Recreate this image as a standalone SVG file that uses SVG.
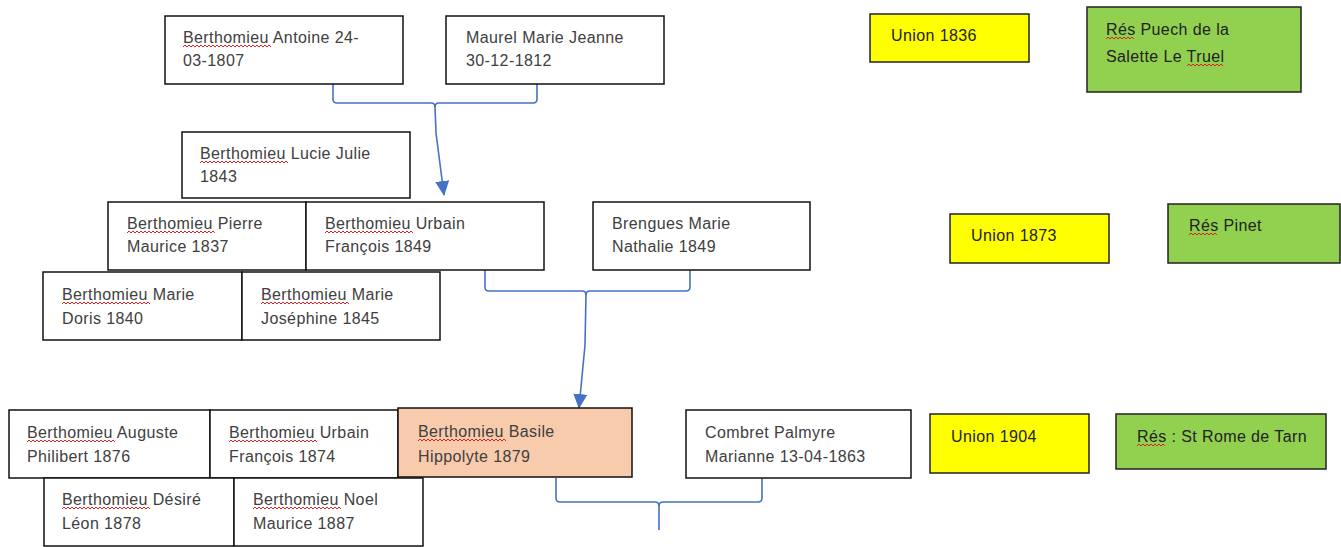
<svg xmlns="http://www.w3.org/2000/svg" width="1341" height="547" viewBox="0 0 1341 547">
<style>
.b{fill:#fff;stroke:#111;stroke-width:1.5}
.y{fill:#ffff00;stroke:#222;stroke-width:1.5}
.g{fill:#92d050;stroke:#222;stroke-width:1.5}
.p{fill:#f8cbad;stroke:#111;stroke-width:1.5}
.t{font-family:"Liberation Sans",Arial,sans-serif;font-size:16px;fill:#404040;letter-spacing:0.4px}
.u{font-family:"Liberation Sans",Arial,sans-serif;font-size:16px;fill:#222;letter-spacing:0.4px}
.w{fill:none;stroke:#e02020;stroke-width:1}
.c{fill:none;stroke:#4472c4;stroke-width:1.6;stroke-linejoin:round}
</style>
<defs>
<marker id="ah" markerUnits="userSpaceOnUse" markerWidth="15" markerHeight="14" refX="14" refY="7" orient="auto" viewBox="0 0 15 14">
<path d="M0,0 L15,7 L0,14 z" fill="#4472c4"/>
</marker>
<path id="sqB" class="w" d="M0,2 l2,-2 l2,2 l2,-2 l2,2 l2,-2 l2,2 l2,-2 l2,2 l2,-2 l2,2 l2,-2 l2,2 l2,-2 l2,2 l2,-2 l2,2 l2,-2 l2,2 l2,-2 l2,2 l2,-2 l2,2 l2,-2 l2,2 l2,-2 l2,2 l2,-2 l2,2 l2,-2 l2,2 l2,-2 l2,2 l2,-2 l2,2 l2,-2 l2,2 l2,-2 l2,2 l2,-2 l2,2 l2,-2 l2,2 l2,-2 l2,2"/>
<path id="sqR" class="w" d="M0,2 l2,-2 l2,2 l2,-2 l2,2 l2,-2 l2,2 l2,-2 l2,2 l2,-2 l2,2 l2,-2 l2,2 l2,-2 l2,2"/>
<path id="sqT" class="w" d="M0,2 l2,-2 l2,2 l2,-2 l2,2 l2,-2 l2,2 l2,-2 l2,2 l2,-2 l2,2 l2,-2 l2,2 l2,-2 l2,2 l2,-2 l2,2 l2,-2 l2,2"/>
</defs>

<g id="connectors">
<path class="c" d="M333,84 V99 Q333,103 337,103 H431 Q435,103 435,107"/>
<path class="c" d="M537,84 V99 Q537,103 533,103 H439 Q435,103 435,107"/>
<path class="c" d="M435,107 L436,133 L444,195" marker-end="url(#ah)"/>
<path class="c" d="M485,270 V287 Q485,291 489,291 H582 Q586,291 586,295"/>
<path class="c" d="M690,270 V287 Q690,291 686,291 H590 Q586,291 586,295"/>
<path class="c" d="M586,295 L585,345 L579,408" marker-end="url(#ah)"/>
<path class="c" d="M556,478 V498 Q556,502 560,502 H655 Q659,502 659,506"/>
<path class="c" d="M762,478 V498 Q762,502 758,502 H663 Q659,502 659,506"/>
<path class="c" d="M659,506 V530"/>
</g>

<g id="antoine"><rect class="b" x="165" y="16" width="238" height="68"/>
<text class="t" x="183" y="43">Berthomieu Antoine 24-</text>
<text class="t" x="183" y="66">03-1807</text>
<use href="#sqB" x="183" y="45"/></g>

<g id="maurel"><rect class="b" x="446" y="16" width="218" height="68"/>
<text class="t" x="466" y="43">Maurel Marie Jeanne</text>
<text class="t" x="466" y="66">30-12-1812</text></g>

<g id="union1836"><rect class="y" x="870" y="14" width="159" height="48"/>
<text class="u" x="891" y="41">Union 1836</text></g>

<g id="res1836"><rect class="g" x="1087" y="7" width="214" height="85"/>
<text class="u" x="1106" y="35">Rés Puech de la</text>
<text class="u" x="1106" y="62">Salette Le Truel</text>
<use href="#sqR" x="1106" y="37"/>
<use href="#sqT" x="1187" y="64"/></g>

<g id="lucie"><rect class="b" x="182" y="132" width="228" height="66"/>
<text class="t" x="200" y="159">Berthomieu Lucie Julie</text>
<text class="t" x="200" y="182">1843</text>
<use href="#sqB" x="200" y="161"/></g>

<g id="pierre"><rect class="b" x="108" y="202" width="198" height="68"/>
<text class="t" x="127" y="229">Berthomieu Pierre</text>
<text class="t" x="127" y="252">Maurice 1837</text>
<use href="#sqB" x="127" y="231"/></g>

<g id="urbain1849"><rect class="b" x="306" y="202" width="238" height="68"/>
<text class="t" x="325" y="229">Berthomieu Urbain</text>
<text class="t" x="325" y="252">François 1849</text>
<use href="#sqB" x="325" y="231"/></g>

<g id="brengues"><rect class="b" x="593" y="202" width="217" height="68"/>
<text class="t" x="612" y="229">Brengues Marie</text>
<text class="t" x="612" y="252">Nathalie 1849</text></g>

<g id="union1873"><rect class="y" x="950" y="214" width="159" height="49"/>
<text class="u" x="971" y="241">Union 1873</text></g>

<g id="res1873"><rect class="g" x="1168" y="204" width="172" height="59"/>
<text class="u" x="1189" y="231">Rés Pinet</text>
<use href="#sqR" x="1189" y="233"/></g>

<g id="doris"><rect class="b" x="43" y="272" width="199" height="68"/>
<text class="t" x="62" y="300">Berthomieu Marie</text>
<text class="t" x="62" y="324">Doris 1840</text>
<use href="#sqB" x="62" y="302"/></g>

<g id="josephine"><rect class="b" x="242" y="272" width="198" height="68"/>
<text class="t" x="261" y="300">Berthomieu Marie</text>
<text class="t" x="261" y="324">Joséphine 1845</text>
<use href="#sqB" x="261" y="302"/></g>

<g id="auguste"><rect class="b" x="9" y="410" width="201" height="68"/>
<text class="t" x="27" y="438">Berthomieu Auguste</text>
<text class="t" x="27" y="462">Philibert 1876</text>
<use href="#sqB" x="27" y="440"/></g>

<g id="urbain1874"><rect class="b" x="210" y="410" width="188" height="68"/>
<text class="t" x="229" y="438">Berthomieu Urbain</text>
<text class="t" x="229" y="462">François 1874</text>
<use href="#sqB" x="229" y="440"/></g>

<g id="desire"><rect class="b" x="44" y="478" width="190" height="68"/>
<text class="t" x="62" y="505">Berthomieu Désiré</text>
<text class="t" x="62" y="529">Léon 1878</text>
<use href="#sqB" x="62" y="507"/></g>

<g id="noel"><rect class="b" x="234" y="478" width="189" height="68"/>
<text class="t" x="253" y="505">Berthomieu Noel</text>
<text class="t" x="253" y="529">Maurice 1887</text>
<use href="#sqB" x="253" y="507"/></g>

<g id="basile"><rect class="p" x="398" y="408" width="234" height="69"/>
<text class="t" x="418" y="437">Berthomieu Basile</text>
<text class="t" x="418" y="462">Hippolyte 1879</text>
<use href="#sqB" x="418" y="439"/></g>

<g id="combret"><rect class="b" x="686" y="410" width="225" height="68"/>
<text class="t" x="705" y="438">Combret Palmyre</text>
<text class="t" x="705" y="462">Marianne 13-04-1863</text></g>

<g id="union1904"><rect class="y" x="930" y="414" width="159" height="59"/>
<text class="u" x="951" y="442">Union 1904</text></g>

<g id="res1904"><rect class="g" x="1116" y="414" width="210" height="55"/>
<text class="u" x="1137" y="442">Rés : St Rome de Tarn</text>
<use href="#sqR" x="1137" y="444"/></g>
</svg>
